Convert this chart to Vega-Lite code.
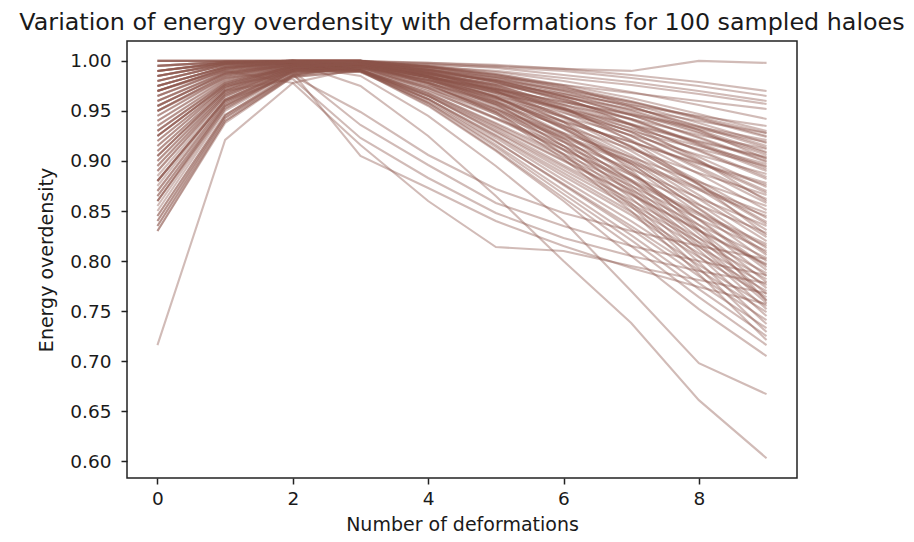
{"$schema":"https://vega.github.io/schema/vega-lite/v6.json","width":670,"height":437,"autosize":"none","padding":{"left":127,"top":41,"right":117,"bottom":64},"background":"white",
"title":{"text":"Variation of energy overdensity with deformations for 100 sampled haloes","font":"DejaVu Sans","fontSize":23.8,"fontWeight":"normal","color":"#1a1a1a","anchor":"middle","offset":6},
"config":{"view":{"stroke":"#222","strokeWidth":1.5},"axis":{"grid":false,"domain":false,"labelFont":"DejaVu Sans","titleFont":"DejaVu Sans","labelFontSize":18.5,"titleFontSize":19,"titleFontWeight":"normal","labelColor":"#1a1a1a","titleColor":"#1a1a1a","tickColor":"#222","tickSize":6,"tickWidth":1.5}},
"datasets":{"halos":[
{"halo":1,"n":0,"e":0.985},{"halo":1,"n":1,"e":0.998},{"halo":1,"n":2,"e":1.0},{"halo":1,"n":3,"e":1.0},{"halo":1,"n":4,"e":0.998},{"halo":1,"n":5,"e":0.995},{"halo":1,"n":6,"e":0.992},{"halo":1,"n":7,"e":0.99},{"halo":1,"n":8,"e":1.0},{"halo":1,"n":9,"e":0.998},
{"halo":2,"n":0,"e":0.97},{"halo":2,"n":1,"e":0.993},{"halo":2,"n":2,"e":0.999},{"halo":2,"n":3,"e":0.999},{"halo":2,"n":4,"e":0.998},{"halo":2,"n":5,"e":0.996},{"halo":2,"n":6,"e":0.992},{"halo":2,"n":7,"e":0.986},{"halo":2,"n":8,"e":0.979},{"halo":2,"n":9,"e":0.97},
{"halo":3,"n":0,"e":0.94},{"halo":3,"n":1,"e":0.981},{"halo":3,"n":2,"e":0.997},{"halo":3,"n":3,"e":0.998},{"halo":3,"n":4,"e":0.996},{"halo":3,"n":5,"e":0.994},{"halo":3,"n":6,"e":0.99},{"halo":3,"n":7,"e":0.983},{"halo":3,"n":8,"e":0.975},{"halo":3,"n":9,"e":0.965},
{"halo":4,"n":0,"e":0.995},{"halo":4,"n":1,"e":0.999},{"halo":4,"n":2,"e":1.0},{"halo":4,"n":3,"e":1.0},{"halo":4,"n":4,"e":0.997},{"halo":4,"n":5,"e":0.993},{"halo":4,"n":6,"e":0.986},{"halo":4,"n":7,"e":0.979},{"halo":4,"n":8,"e":0.97},{"halo":4,"n":9,"e":0.96},
{"halo":5,"n":0,"e":0.89},{"halo":5,"n":1,"e":0.965},{"halo":5,"n":2,"e":0.992},{"halo":5,"n":3,"e":0.997},{"halo":5,"n":4,"e":0.994},{"halo":5,"n":5,"e":0.99},{"halo":5,"n":6,"e":0.983},{"halo":5,"n":7,"e":0.976},{"halo":5,"n":8,"e":0.967},{"halo":5,"n":9,"e":0.957},
{"halo":6,"n":0,"e":0.98},{"halo":6,"n":1,"e":0.996},{"halo":6,"n":2,"e":0.999},{"halo":6,"n":3,"e":0.997},{"halo":6,"n":4,"e":0.991},{"halo":6,"n":5,"e":0.984},{"halo":6,"n":6,"e":0.976},{"halo":6,"n":7,"e":0.968},{"halo":6,"n":8,"e":0.96},{"halo":6,"n":9,"e":0.952},
{"halo":7,"n":0,"e":0.955},{"halo":7,"n":1,"e":0.988},{"halo":7,"n":2,"e":0.998},{"halo":7,"n":3,"e":0.999},{"halo":7,"n":4,"e":0.995},{"halo":7,"n":5,"e":0.989},{"halo":7,"n":6,"e":0.98},{"halo":7,"n":7,"e":0.969},{"halo":7,"n":8,"e":0.956},{"halo":7,"n":9,"e":0.942},
{"halo":8,"n":0,"e":0.86},{"halo":8,"n":1,"e":0.952},{"halo":8,"n":2,"e":0.99},{"halo":8,"n":3,"e":0.995},{"halo":8,"n":4,"e":0.987},{"halo":8,"n":5,"e":0.977},{"halo":8,"n":6,"e":0.967},{"halo":8,"n":7,"e":0.956},{"halo":8,"n":8,"e":0.945},{"halo":8,"n":9,"e":0.935},
{"halo":9,"n":0,"e":0.99},{"halo":9,"n":1,"e":0.999},{"halo":9,"n":2,"e":1.0},{"halo":9,"n":3,"e":1.0},{"halo":9,"n":4,"e":0.995},{"halo":9,"n":5,"e":0.987},{"halo":9,"n":6,"e":0.976},{"halo":9,"n":7,"e":0.963},{"halo":9,"n":8,"e":0.947},{"halo":9,"n":9,"e":0.93},
{"halo":10,"n":0,"e":0.925},{"halo":10,"n":1,"e":0.976},{"halo":10,"n":2,"e":0.995},{"halo":10,"n":3,"e":0.996},{"halo":10,"n":4,"e":0.987},{"halo":10,"n":5,"e":0.976},{"halo":10,"n":6,"e":0.964},{"halo":10,"n":7,"e":0.952},{"halo":10,"n":8,"e":0.94},{"halo":10,"n":9,"e":0.928},
{"halo":11,"n":0,"e":0.97},{"halo":11,"n":1,"e":0.992},{"halo":11,"n":2,"e":0.999},{"halo":11,"n":3,"e":0.999},{"halo":11,"n":4,"e":0.994},{"halo":11,"n":5,"e":0.986},{"halo":11,"n":6,"e":0.974},{"halo":11,"n":7,"e":0.96},{"halo":11,"n":8,"e":0.943},{"halo":11,"n":9,"e":0.925},
{"halo":12,"n":0,"e":0.835},{"halo":12,"n":1,"e":0.94},{"halo":12,"n":2,"e":0.985},{"halo":12,"n":3,"e":0.993},{"halo":12,"n":4,"e":0.984},{"halo":12,"n":5,"e":0.972},{"halo":12,"n":6,"e":0.959},{"halo":12,"n":7,"e":0.947},{"halo":12,"n":8,"e":0.934},{"halo":12,"n":9,"e":0.921},
{"halo":13,"n":0,"e":1.0},{"halo":13,"n":1,"e":1.0},{"halo":13,"n":2,"e":1.0},{"halo":13,"n":3,"e":1.0},{"halo":13,"n":4,"e":0.994},{"halo":13,"n":5,"e":0.985},{"halo":13,"n":6,"e":0.972},{"halo":13,"n":7,"e":0.957},{"halo":13,"n":8,"e":0.938},{"halo":13,"n":9,"e":0.918},
{"halo":14,"n":0,"e":0.945},{"halo":14,"n":1,"e":0.984},{"halo":14,"n":2,"e":0.997},{"halo":14,"n":3,"e":0.998},{"halo":14,"n":4,"e":0.992},{"halo":14,"n":5,"e":0.983},{"halo":14,"n":6,"e":0.97},{"halo":14,"n":7,"e":0.954},{"halo":14,"n":8,"e":0.935},{"halo":14,"n":9,"e":0.915},
{"halo":15,"n":0,"e":0.905},{"halo":15,"n":1,"e":0.97},{"halo":15,"n":2,"e":0.994},{"halo":15,"n":3,"e":0.996},{"halo":15,"n":4,"e":0.984},{"halo":15,"n":5,"e":0.971},{"halo":15,"n":6,"e":0.956},{"halo":15,"n":7,"e":0.942},{"halo":15,"n":8,"e":0.926},{"halo":15,"n":9,"e":0.912},
{"halo":16,"n":0,"e":0.985},{"halo":16,"n":1,"e":0.997},{"halo":16,"n":2,"e":0.999},{"halo":16,"n":3,"e":0.999},{"halo":16,"n":4,"e":0.993},{"halo":16,"n":5,"e":0.983},{"halo":16,"n":6,"e":0.968},{"halo":16,"n":7,"e":0.951},{"halo":16,"n":8,"e":0.931},{"halo":16,"n":9,"e":0.909},
{"halo":17,"n":0,"e":0.87},{"halo":17,"n":1,"e":0.958},{"halo":17,"n":2,"e":0.991},{"halo":17,"n":3,"e":0.996},{"halo":17,"n":4,"e":0.99},{"halo":17,"n":5,"e":0.98},{"halo":17,"n":6,"e":0.965},{"halo":17,"n":7,"e":0.948},{"halo":17,"n":8,"e":0.928},{"halo":17,"n":9,"e":0.906},
{"halo":18,"n":0,"e":0.96},{"halo":18,"n":1,"e":0.989},{"halo":18,"n":2,"e":0.998},{"halo":18,"n":3,"e":0.996},{"halo":18,"n":4,"e":0.984},{"halo":18,"n":5,"e":0.969},{"halo":18,"n":6,"e":0.952},{"halo":18,"n":7,"e":0.936},{"halo":18,"n":8,"e":0.919},{"halo":18,"n":9,"e":0.903},
{"halo":19,"n":0,"e":0.93},{"halo":19,"n":1,"e":0.978},{"halo":19,"n":2,"e":0.996},{"halo":19,"n":3,"e":0.998},{"halo":19,"n":4,"e":0.991},{"halo":19,"n":5,"e":0.98},{"halo":19,"n":6,"e":0.965},{"halo":19,"n":7,"e":0.946},{"halo":19,"n":8,"e":0.924},{"halo":19,"n":9,"e":0.9},
{"halo":20,"n":0,"e":0.995},{"halo":20,"n":1,"e":0.999},{"halo":20,"n":2,"e":1.0},{"halo":20,"n":3,"e":0.997},{"halo":20,"n":4,"e":0.985},{"halo":20,"n":5,"e":0.968},{"halo":20,"n":6,"e":0.951},{"halo":20,"n":7,"e":0.933},{"halo":20,"n":8,"e":0.915},{"halo":20,"n":9,"e":0.897},
{"halo":21,"n":0,"e":0.85},{"halo":21,"n":1,"e":0.95},{"halo":21,"n":2,"e":0.988},{"halo":21,"n":3,"e":0.995},{"halo":21,"n":4,"e":0.989},{"halo":21,"n":5,"e":0.978},{"halo":21,"n":6,"e":0.961},{"halo":21,"n":7,"e":0.942},{"halo":21,"n":8,"e":0.918},{"halo":21,"n":9,"e":0.894},
{"halo":22,"n":0,"e":0.975},{"halo":22,"n":1,"e":0.994},{"halo":22,"n":2,"e":0.999},{"halo":22,"n":3,"e":0.999},{"halo":22,"n":4,"e":0.991},{"halo":22,"n":5,"e":0.979},{"halo":22,"n":6,"e":0.962},{"halo":22,"n":7,"e":0.941},{"halo":22,"n":8,"e":0.916},{"halo":22,"n":9,"e":0.89},
{"halo":23,"n":0,"e":0.915},{"halo":23,"n":1,"e":0.973},{"halo":23,"n":2,"e":0.995},{"halo":23,"n":3,"e":0.994},{"halo":23,"n":4,"e":0.981},{"halo":23,"n":5,"e":0.963},{"halo":23,"n":6,"e":0.944},{"halo":23,"n":7,"e":0.926},{"halo":23,"n":8,"e":0.906},{"halo":23,"n":9,"e":0.887},
{"halo":24,"n":0,"e":0.99},{"halo":24,"n":1,"e":0.998},{"halo":24,"n":2,"e":1.0},{"halo":24,"n":3,"e":1.0},{"halo":24,"n":4,"e":0.992},{"halo":24,"n":5,"e":0.979},{"halo":24,"n":6,"e":0.96},{"halo":24,"n":7,"e":0.937},{"halo":24,"n":8,"e":0.91},{"halo":24,"n":9,"e":0.882},
{"halo":25,"n":0,"e":0.88},{"halo":25,"n":1,"e":0.961},{"halo":25,"n":2,"e":0.992},{"halo":25,"n":3,"e":0.993},{"halo":25,"n":4,"e":0.978},{"halo":25,"n":5,"e":0.959},{"halo":25,"n":6,"e":0.939},{"halo":25,"n":7,"e":0.919},{"halo":25,"n":8,"e":0.898},{"halo":25,"n":9,"e":0.878},
{"halo":26,"n":0,"e":0.95},{"halo":26,"n":1,"e":0.986},{"halo":26,"n":2,"e":0.997},{"halo":26,"n":3,"e":0.998},{"halo":26,"n":4,"e":0.989},{"halo":26,"n":5,"e":0.976},{"halo":26,"n":6,"e":0.956},{"halo":26,"n":7,"e":0.932},{"halo":26,"n":8,"e":0.904},{"halo":26,"n":9,"e":0.874},
{"halo":27,"n":0,"e":0.84},{"halo":27,"n":1,"e":0.943},{"halo":27,"n":2,"e":0.986},{"halo":27,"n":3,"e":0.995},{"halo":27,"n":4,"e":0.986},{"halo":27,"n":5,"e":0.972},{"halo":27,"n":6,"e":0.952},{"halo":27,"n":7,"e":0.929},{"halo":27,"n":8,"e":0.9},{"halo":27,"n":9,"e":0.87},
{"halo":28,"n":0,"e":0.965},{"halo":28,"n":1,"e":0.99},{"halo":28,"n":2,"e":0.998},{"halo":28,"n":3,"e":0.994},{"halo":28,"n":4,"e":0.978},{"halo":28,"n":5,"e":0.957},{"halo":28,"n":6,"e":0.935},{"halo":28,"n":7,"e":0.912},{"halo":28,"n":8,"e":0.888},{"halo":28,"n":9,"e":0.866},
{"halo":29,"n":0,"e":0.92},{"halo":29,"n":1,"e":0.974},{"halo":29,"n":2,"e":0.995},{"halo":29,"n":3,"e":0.997},{"halo":29,"n":4,"e":0.988},{"halo":29,"n":5,"e":0.973},{"halo":29,"n":6,"e":0.951},{"halo":29,"n":7,"e":0.925},{"halo":29,"n":8,"e":0.894},{"halo":29,"n":9,"e":0.862},
{"halo":30,"n":0,"e":1.0},{"halo":30,"n":1,"e":1.0},{"halo":30,"n":2,"e":1.0},{"halo":30,"n":3,"e":1.0},{"halo":30,"n":4,"e":0.99},{"halo":30,"n":5,"e":0.974},{"halo":30,"n":6,"e":0.952},{"halo":30,"n":7,"e":0.925},{"halo":30,"n":8,"e":0.892},{"halo":30,"n":9,"e":0.858},
{"halo":31,"n":0,"e":0.895},{"halo":31,"n":1,"e":0.967},{"halo":31,"n":2,"e":0.993},{"halo":31,"n":3,"e":0.992},{"halo":31,"n":4,"e":0.975},{"halo":31,"n":5,"e":0.952},{"halo":31,"n":6,"e":0.928},{"halo":31,"n":7,"e":0.904},{"halo":31,"n":8,"e":0.879},{"halo":31,"n":9,"e":0.855},
{"halo":32,"n":0,"e":0.98},{"halo":32,"n":1,"e":0.996},{"halo":32,"n":2,"e":0.999},{"halo":32,"n":3,"e":0.999},{"halo":32,"n":4,"e":0.989},{"halo":32,"n":5,"e":0.972},{"halo":32,"n":6,"e":0.949},{"halo":32,"n":7,"e":0.921},{"halo":32,"n":8,"e":0.887},{"halo":32,"n":9,"e":0.851},
{"halo":33,"n":0,"e":0.935},{"halo":33,"n":1,"e":0.979},{"halo":33,"n":2,"e":0.996},{"halo":33,"n":3,"e":0.993},{"halo":33,"n":4,"e":0.975},{"halo":33,"n":5,"e":0.951},{"halo":33,"n":6,"e":0.925},{"halo":33,"n":7,"e":0.9},{"halo":33,"n":8,"e":0.873},{"halo":33,"n":9,"e":0.848},
{"halo":34,"n":0,"e":0.865},{"halo":34,"n":1,"e":0.955},{"halo":34,"n":2,"e":0.99},{"halo":34,"n":3,"e":0.996},{"halo":34,"n":4,"e":0.985},{"halo":34,"n":5,"e":0.968},{"halo":34,"n":6,"e":0.944},{"halo":34,"n":7,"e":0.915},{"halo":34,"n":8,"e":0.88},{"halo":34,"n":9,"e":0.843},
{"halo":35,"n":0,"e":0.97},{"halo":35,"n":1,"e":0.993},{"halo":35,"n":2,"e":0.999},{"halo":35,"n":3,"e":0.999},{"halo":35,"n":4,"e":0.988},{"halo":35,"n":5,"e":0.97},{"halo":35,"n":6,"e":0.945},{"halo":35,"n":7,"e":0.914},{"halo":35,"n":8,"e":0.877},{"halo":35,"n":9,"e":0.839},
{"halo":36,"n":0,"e":0.91},{"halo":36,"n":1,"e":0.971},{"halo":36,"n":2,"e":0.994},{"halo":36,"n":3,"e":0.992},{"halo":36,"n":4,"e":0.973},{"halo":36,"n":5,"e":0.947},{"halo":36,"n":6,"e":0.919},{"halo":36,"n":7,"e":0.892},{"halo":36,"n":8,"e":0.863},{"halo":36,"n":9,"e":0.835},
{"halo":37,"n":0,"e":0.985},{"halo":37,"n":1,"e":0.997},{"halo":37,"n":2,"e":1.0},{"halo":37,"n":3,"e":1.0},{"halo":37,"n":4,"e":0.988},{"halo":37,"n":5,"e":0.97},{"halo":37,"n":6,"e":0.943},{"halo":37,"n":7,"e":0.91},{"halo":37,"n":8,"e":0.872},{"halo":37,"n":9,"e":0.831},
{"halo":38,"n":0,"e":0.83},{"halo":38,"n":1,"e":0.938},{"halo":38,"n":2,"e":0.984},{"halo":38,"n":3,"e":0.99},{"halo":38,"n":4,"e":0.97},{"halo":38,"n":5,"e":0.943},{"halo":38,"n":6,"e":0.915},{"halo":38,"n":7,"e":0.886},{"halo":38,"n":8,"e":0.856},{"halo":38,"n":9,"e":0.828},
{"halo":39,"n":0,"e":0.955},{"halo":39,"n":1,"e":0.987},{"halo":39,"n":2,"e":0.997},{"halo":39,"n":3,"e":0.998},{"halo":39,"n":4,"e":0.986},{"halo":39,"n":5,"e":0.967},{"halo":39,"n":6,"e":0.939},{"halo":39,"n":7,"e":0.906},{"halo":39,"n":8,"e":0.866},{"halo":39,"n":9,"e":0.824},
{"halo":40,"n":0,"e":0.875},{"halo":40,"n":1,"e":0.96},{"halo":40,"n":2,"e":0.991},{"halo":40,"n":3,"e":0.996},{"halo":40,"n":4,"e":0.984},{"halo":40,"n":5,"e":0.964},{"halo":40,"n":6,"e":0.936},{"halo":40,"n":7,"e":0.903},{"halo":40,"n":8,"e":0.862},{"halo":40,"n":9,"e":0.82},
{"halo":41,"n":0,"e":0.99},{"halo":41,"n":1,"e":0.998},{"halo":41,"n":2,"e":1.0},{"halo":41,"n":3,"e":0.995},{"halo":41,"n":4,"e":0.973},{"halo":41,"n":5,"e":0.943},{"halo":41,"n":6,"e":0.912},{"halo":41,"n":7,"e":0.881},{"halo":41,"n":8,"e":0.848},{"halo":41,"n":9,"e":0.817},
{"halo":42,"n":0,"e":0.94},{"halo":42,"n":1,"e":0.982},{"halo":42,"n":2,"e":0.997},{"halo":42,"n":3,"e":0.998},{"halo":42,"n":4,"e":0.985},{"halo":42,"n":5,"e":0.965},{"halo":42,"n":6,"e":0.935},{"halo":42,"n":7,"e":0.9},{"halo":42,"n":8,"e":0.857},{"halo":42,"n":9,"e":0.813},
{"halo":43,"n":0,"e":0.855},{"halo":43,"n":1,"e":0.952},{"halo":43,"n":2,"e":0.989},{"halo":43,"n":3,"e":0.991},{"halo":43,"n":4,"e":0.968},{"halo":43,"n":5,"e":0.938},{"halo":43,"n":6,"e":0.907},{"halo":43,"n":7,"e":0.875},{"halo":43,"n":8,"e":0.842},{"halo":43,"n":9,"e":0.81},
{"halo":44,"n":0,"e":0.975},{"halo":44,"n":1,"e":0.994},{"halo":44,"n":2,"e":0.999},{"halo":44,"n":3,"e":0.999},{"halo":44,"n":4,"e":0.985},{"halo":44,"n":5,"e":0.964},{"halo":44,"n":6,"e":0.933},{"halo":44,"n":7,"e":0.897},{"halo":44,"n":8,"e":0.852},{"halo":44,"n":9,"e":0.806},
{"halo":45,"n":0,"e":0.9},{"halo":45,"n":1,"e":0.968},{"halo":45,"n":2,"e":0.993},{"halo":45,"n":3,"e":0.991},{"halo":45,"n":4,"e":0.968},{"halo":45,"n":5,"e":0.937},{"halo":45,"n":6,"e":0.904},{"halo":45,"n":7,"e":0.871},{"halo":45,"n":8,"e":0.836},{"halo":45,"n":9,"e":0.803},
{"halo":46,"n":0,"e":0.995},{"halo":46,"n":1,"e":0.999},{"halo":46,"n":2,"e":1.0},{"halo":46,"n":3,"e":1.0},{"halo":46,"n":4,"e":0.986},{"halo":46,"n":5,"e":0.964},{"halo":46,"n":6,"e":0.932},{"halo":46,"n":7,"e":0.894},{"halo":46,"n":8,"e":0.848},{"halo":46,"n":9,"e":0.8},
{"halo":47,"n":0,"e":0.925},{"halo":47,"n":1,"e":0.976},{"halo":47,"n":2,"e":0.995},{"halo":47,"n":3,"e":0.991},{"halo":47,"n":4,"e":0.967},{"halo":47,"n":5,"e":0.935},{"halo":47,"n":6,"e":0.901},{"halo":47,"n":7,"e":0.867},{"halo":47,"n":8,"e":0.831},{"halo":47,"n":9,"e":0.797},
{"halo":48,"n":0,"e":0.845},{"halo":48,"n":1,"e":0.946},{"halo":48,"n":2,"e":0.987},{"halo":48,"n":3,"e":0.995},{"halo":48,"n":4,"e":0.981},{"halo":48,"n":5,"e":0.959},{"halo":48,"n":6,"e":0.927},{"halo":48,"n":7,"e":0.888},{"halo":48,"n":8,"e":0.842},{"halo":48,"n":9,"e":0.794},
{"halo":49,"n":0,"e":0.96},{"halo":49,"n":1,"e":0.989},{"halo":49,"n":2,"e":0.998},{"halo":49,"n":3,"e":0.998},{"halo":49,"n":4,"e":0.984},{"halo":49,"n":5,"e":0.961},{"halo":49,"n":6,"e":0.928},{"halo":49,"n":7,"e":0.888},{"halo":49,"n":8,"e":0.841},{"halo":49,"n":9,"e":0.791},
{"halo":50,"n":0,"e":0.885},{"halo":50,"n":1,"e":0.963},{"halo":50,"n":2,"e":0.992},{"halo":50,"n":3,"e":0.99},{"halo":50,"n":4,"e":0.965},{"halo":50,"n":5,"e":0.932},{"halo":50,"n":6,"e":0.896},{"halo":50,"n":7,"e":0.861},{"halo":50,"n":8,"e":0.823},{"halo":50,"n":9,"e":0.788},
{"halo":51,"n":0,"e":0.98},{"halo":51,"n":1,"e":0.996},{"halo":51,"n":2,"e":0.999},{"halo":51,"n":3,"e":0.999},{"halo":51,"n":4,"e":0.984},{"halo":51,"n":5,"e":0.96},{"halo":51,"n":6,"e":0.926},{"halo":51,"n":7,"e":0.886},{"halo":51,"n":8,"e":0.836},{"halo":51,"n":9,"e":0.785},
{"halo":52,"n":0,"e":0.915},{"halo":52,"n":1,"e":0.973},{"halo":52,"n":2,"e":0.994},{"halo":52,"n":3,"e":0.99},{"halo":52,"n":4,"e":0.965},{"halo":52,"n":5,"e":0.93},{"halo":52,"n":6,"e":0.894},{"halo":52,"n":7,"e":0.857},{"halo":52,"n":8,"e":0.819},{"halo":52,"n":9,"e":0.782},
{"halo":53,"n":0,"e":0.835},{"halo":53,"n":1,"e":0.943},{"halo":53,"n":2,"e":0.985},{"halo":53,"n":3,"e":0.995},{"halo":53,"n":4,"e":0.98},{"halo":53,"n":5,"e":0.956},{"halo":53,"n":6,"e":0.922},{"halo":53,"n":7,"e":0.881},{"halo":53,"n":8,"e":0.831},{"halo":53,"n":9,"e":0.779},
{"halo":54,"n":0,"e":0.95},{"halo":54,"n":1,"e":0.985},{"halo":54,"n":2,"e":0.997},{"halo":54,"n":3,"e":0.991},{"halo":54,"n":4,"e":0.965},{"halo":54,"n":5,"e":0.929},{"halo":54,"n":6,"e":0.891},{"halo":54,"n":7,"e":0.854},{"halo":54,"n":8,"e":0.814},{"halo":54,"n":9,"e":0.776},
{"halo":55,"n":0,"e":0.99},{"halo":55,"n":1,"e":0.998},{"halo":55,"n":2,"e":1.0},{"halo":55,"n":3,"e":1.0},{"halo":55,"n":4,"e":0.984},{"halo":55,"n":5,"e":0.959},{"halo":55,"n":6,"e":0.923},{"halo":55,"n":7,"e":0.88},{"halo":55,"n":8,"e":0.827},{"halo":55,"n":9,"e":0.773},
{"halo":56,"n":0,"e":0.87},{"halo":56,"n":1,"e":0.958},{"halo":56,"n":2,"e":0.99},{"halo":56,"n":3,"e":0.989},{"halo":56,"n":4,"e":0.962},{"halo":56,"n":5,"e":0.926},{"halo":56,"n":6,"e":0.888},{"halo":56,"n":7,"e":0.849},{"halo":56,"n":8,"e":0.808},{"halo":56,"n":9,"e":0.77},
{"halo":57,"n":0,"e":0.965},{"halo":57,"n":1,"e":0.991},{"halo":57,"n":2,"e":0.999},{"halo":57,"n":3,"e":0.999},{"halo":57,"n":4,"e":0.983},{"halo":57,"n":5,"e":0.957},{"halo":57,"n":6,"e":0.92},{"halo":57,"n":7,"e":0.876},{"halo":57,"n":8,"e":0.823},{"halo":57,"n":9,"e":0.767},
{"halo":58,"n":0,"e":0.905},{"halo":58,"n":1,"e":0.97},{"halo":58,"n":2,"e":0.993},{"halo":58,"n":3,"e":0.99},{"halo":58,"n":4,"e":0.962},{"halo":58,"n":5,"e":0.925},{"halo":58,"n":6,"e":0.885},{"halo":58,"n":7,"e":0.846},{"halo":58,"n":8,"e":0.804},{"halo":58,"n":9,"e":0.764},
{"halo":59,"n":0,"e":1.0},{"halo":59,"n":1,"e":1.0},{"halo":59,"n":2,"e":1.0},{"halo":59,"n":3,"e":1.0},{"halo":59,"n":4,"e":0.983},{"halo":59,"n":5,"e":0.957},{"halo":59,"n":6,"e":0.919},{"halo":59,"n":7,"e":0.873},{"halo":59,"n":8,"e":0.818},{"halo":59,"n":9,"e":0.761},
{"halo":60,"n":0,"e":0.86},{"halo":60,"n":1,"e":0.955},{"halo":60,"n":2,"e":0.989},{"halo":60,"n":3,"e":0.996},{"halo":60,"n":4,"e":0.979},{"halo":60,"n":5,"e":0.953},{"halo":60,"n":6,"e":0.915},{"halo":60,"n":7,"e":0.87},{"halo":60,"n":8,"e":0.815},{"halo":60,"n":9,"e":0.758},
{"halo":61,"n":0,"e":0.945},{"halo":61,"n":1,"e":0.983},{"halo":61,"n":2,"e":0.997},{"halo":61,"n":3,"e":0.991},{"halo":61,"n":4,"e":0.962},{"halo":61,"n":5,"e":0.923},{"halo":61,"n":6,"e":0.881},{"halo":61,"n":7,"e":0.84},{"halo":61,"n":8,"e":0.796},{"halo":61,"n":9,"e":0.755},
{"halo":62,"n":0,"e":0.975},{"halo":62,"n":1,"e":0.994},{"halo":62,"n":2,"e":0.999},{"halo":62,"n":3,"e":0.999},{"halo":62,"n":4,"e":0.982},{"halo":62,"n":5,"e":0.955},{"halo":62,"n":6,"e":0.915},{"halo":62,"n":7,"e":0.868},{"halo":62,"n":8,"e":0.811},{"halo":62,"n":9,"e":0.752},
{"halo":63,"n":0,"e":0.89},{"halo":63,"n":1,"e":0.965},{"halo":63,"n":2,"e":0.992},{"halo":63,"n":3,"e":0.989},{"halo":63,"n":4,"e":0.959},{"halo":63,"n":5,"e":0.919},{"halo":63,"n":6,"e":0.877},{"halo":63,"n":7,"e":0.835},{"halo":63,"n":8,"e":0.791},{"halo":63,"n":9,"e":0.749},
{"halo":64,"n":0,"e":0.93},{"halo":64,"n":1,"e":0.977},{"halo":64,"n":2,"e":0.995},{"halo":64,"n":3,"e":0.997},{"halo":64,"n":4,"e":0.979},{"halo":64,"n":5,"e":0.952},{"halo":64,"n":6,"e":0.911},{"halo":64,"n":7,"e":0.863},{"halo":64,"n":8,"e":0.805},{"halo":64,"n":9,"e":0.745},
{"halo":65,"n":0,"e":0.985},{"halo":65,"n":1,"e":0.997},{"halo":65,"n":2,"e":1.0},{"halo":65,"n":3,"e":0.992},{"halo":65,"n":4,"e":0.961},{"halo":65,"n":5,"e":0.92},{"halo":65,"n":6,"e":0.876},{"halo":65,"n":7,"e":0.832},{"halo":65,"n":8,"e":0.785},{"halo":65,"n":9,"e":0.741},
{"halo":66,"n":0,"e":0.84},{"halo":66,"n":1,"e":0.945},{"halo":66,"n":2,"e":0.986},{"halo":66,"n":3,"e":0.995},{"halo":66,"n":4,"e":0.977},{"halo":66,"n":5,"e":0.949},{"halo":66,"n":6,"e":0.907},{"halo":66,"n":7,"e":0.858},{"halo":66,"n":8,"e":0.799},{"halo":66,"n":9,"e":0.737},
{"halo":67,"n":0,"e":0.96},{"halo":67,"n":1,"e":0.988},{"halo":67,"n":2,"e":0.998},{"halo":67,"n":3,"e":0.99},{"halo":67,"n":4,"e":0.958},{"halo":67,"n":5,"e":0.916},{"halo":67,"n":6,"e":0.871},{"halo":67,"n":7,"e":0.826},{"halo":67,"n":8,"e":0.778},{"halo":67,"n":9,"e":0.733},
{"halo":68,"n":0,"e":0.92},{"halo":68,"n":1,"e":0.974},{"halo":68,"n":2,"e":0.995},{"halo":68,"n":3,"e":0.997},{"halo":68,"n":4,"e":0.978},{"halo":68,"n":5,"e":0.949},{"halo":68,"n":6,"e":0.906},{"halo":68,"n":7,"e":0.855},{"halo":68,"n":8,"e":0.793},{"halo":68,"n":9,"e":0.729},
{"halo":69,"n":0,"e":0.97},{"halo":69,"n":1,"e":0.992},{"halo":69,"n":2,"e":0.999},{"halo":69,"n":3,"e":0.991},{"halo":69,"n":4,"e":0.958},{"halo":69,"n":5,"e":0.914},{"halo":69,"n":6,"e":0.867},{"halo":69,"n":7,"e":0.821},{"halo":69,"n":8,"e":0.772},{"halo":69,"n":9,"e":0.725},
{"halo":70,"n":0,"e":0.88},{"halo":70,"n":1,"e":0.961},{"halo":70,"n":2,"e":0.991},{"halo":70,"n":3,"e":0.996},{"halo":70,"n":4,"e":0.977},{"halo":70,"n":5,"e":0.947},{"halo":70,"n":6,"e":0.902},{"halo":70,"n":7,"e":0.85},{"halo":70,"n":8,"e":0.787},{"halo":70,"n":9,"e":0.721},
{"halo":71,"n":0,"e":0.955},{"halo":71,"n":1,"e":0.987},{"halo":71,"n":2,"e":0.997},{"halo":71,"n":3,"e":0.99},{"halo":71,"n":4,"e":0.956},{"halo":71,"n":5,"e":0.911},{"halo":71,"n":6,"e":0.863},{"halo":71,"n":7,"e":0.815},{"halo":71,"n":8,"e":0.764},{"halo":71,"n":9,"e":0.716},
{"halo":72,"n":0,"e":0.99},{"halo":72,"n":1,"e":0.998},{"halo":72,"n":2,"e":0.999},{"halo":72,"n":3,"e":0.99},{"halo":72,"n":4,"e":0.955},{"halo":72,"n":5,"e":0.91},{"halo":72,"n":6,"e":0.86},{"halo":72,"n":7,"e":0.805},{"halo":72,"n":8,"e":0.752},{"halo":72,"n":9,"e":0.705},
{"halo":73,"n":0,"e":0.93},{"halo":73,"n":1,"e":0.978},{"halo":73,"n":2,"e":0.996},{"halo":73,"n":3,"e":0.985},{"halo":73,"n":4,"e":0.945},{"halo":73,"n":5,"e":0.895},{"halo":73,"n":6,"e":0.84},{"halo":73,"n":7,"e":0.77},{"halo":73,"n":8,"e":0.698},{"halo":73,"n":9,"e":0.667},
{"halo":74,"n":0,"e":0.975},{"halo":74,"n":1,"e":0.994},{"halo":74,"n":2,"e":0.998},{"halo":74,"n":3,"e":0.975},{"halo":74,"n":4,"e":0.925},{"halo":74,"n":5,"e":0.865},{"halo":74,"n":6,"e":0.8},{"halo":74,"n":7,"e":0.738},{"halo":74,"n":8,"e":0.661},{"halo":74,"n":9,"e":0.603},
{"halo":75,"n":0,"e":0.716},{"halo":75,"n":1,"e":0.921},{"halo":75,"n":2,"e":0.978},{"halo":75,"n":3,"e":0.993},{"halo":75,"n":4,"e":0.988},{"halo":75,"n":5,"e":0.981},{"halo":75,"n":6,"e":0.971},{"halo":75,"n":7,"e":0.959},{"halo":75,"n":8,"e":0.944},{"halo":75,"n":9,"e":0.928},
{"halo":76,"n":0,"e":0.965},{"halo":76,"n":1,"e":0.991},{"halo":76,"n":2,"e":0.999},{"halo":76,"n":3,"e":0.999},{"halo":76,"n":4,"e":0.994},{"halo":76,"n":5,"e":0.986},{"halo":76,"n":6,"e":0.973},{"halo":76,"n":7,"e":0.959},{"halo":76,"n":8,"e":0.942},{"halo":76,"n":9,"e":0.924},
{"halo":77,"n":0,"e":0.88},{"halo":77,"n":1,"e":0.961},{"halo":77,"n":2,"e":0.991},{"halo":77,"n":3,"e":0.994},{"halo":77,"n":4,"e":0.984},{"halo":77,"n":5,"e":0.972},{"halo":77,"n":6,"e":0.959},{"halo":77,"n":7,"e":0.946},{"halo":77,"n":8,"e":0.932},{"halo":77,"n":9,"e":0.919},
{"halo":78,"n":0,"e":0.995},{"halo":78,"n":1,"e":0.999},{"halo":78,"n":2,"e":1.0},{"halo":78,"n":3,"e":1.0},{"halo":78,"n":4,"e":0.994},{"halo":78,"n":5,"e":0.984},{"halo":78,"n":6,"e":0.97},{"halo":78,"n":7,"e":0.954},{"halo":78,"n":8,"e":0.934},{"halo":78,"n":9,"e":0.913},
{"halo":79,"n":0,"e":0.9},{"halo":79,"n":1,"e":0.968},{"halo":79,"n":2,"e":0.993},{"halo":79,"n":3,"e":0.997},{"halo":79,"n":4,"e":0.991},{"halo":79,"n":5,"e":0.981},{"halo":79,"n":6,"e":0.967},{"halo":79,"n":7,"e":0.95},{"halo":79,"n":8,"e":0.929},{"halo":79,"n":9,"e":0.908},
{"halo":80,"n":0,"e":0.95},{"halo":80,"n":1,"e":0.985},{"halo":80,"n":2,"e":0.997},{"halo":80,"n":3,"e":0.995},{"halo":80,"n":4,"e":0.984},{"halo":80,"n":5,"e":0.969},{"halo":80,"n":6,"e":0.953},{"halo":80,"n":7,"e":0.937},{"halo":80,"n":8,"e":0.92},{"halo":80,"n":9,"e":0.904},
{"halo":81,"n":0,"e":0.985},{"halo":81,"n":1,"e":0.997},{"halo":81,"n":2,"e":0.999},{"halo":81,"n":3,"e":0.999},{"halo":81,"n":4,"e":0.992},{"halo":81,"n":5,"e":0.981},{"halo":81,"n":6,"e":0.965},{"halo":81,"n":7,"e":0.946},{"halo":81,"n":8,"e":0.923},{"halo":81,"n":9,"e":0.899},
{"halo":82,"n":0,"e":0.86},{"halo":82,"n":1,"e":0.954},{"halo":82,"n":2,"e":0.989},{"halo":82,"n":3,"e":0.993},{"halo":82,"n":4,"e":0.981},{"halo":82,"n":5,"e":0.965},{"halo":82,"n":6,"e":0.948},{"halo":82,"n":7,"e":0.93},{"halo":82,"n":8,"e":0.912},{"halo":82,"n":9,"e":0.895},
{"halo":83,"n":0,"e":0.935},{"halo":83,"n":1,"e":0.98},{"halo":83,"n":2,"e":0.996},{"halo":83,"n":3,"e":0.998},{"halo":83,"n":4,"e":0.991},{"halo":83,"n":5,"e":0.979},{"halo":83,"n":6,"e":0.962},{"halo":83,"n":7,"e":0.942},{"halo":83,"n":8,"e":0.917},{"halo":83,"n":9,"e":0.892},
{"halo":84,"n":0,"e":0.975},{"halo":84,"n":1,"e":0.994},{"halo":84,"n":2,"e":0.999},{"halo":84,"n":3,"e":0.999},{"halo":84,"n":4,"e":0.994},{"halo":84,"n":5,"e":0.987},{"halo":84,"n":6,"e":0.975},{"halo":84,"n":7,"e":0.955},{"halo":84,"n":8,"e":0.931},{"halo":84,"n":9,"e":0.902},
{"halo":85,"n":0,"e":0.845},{"halo":85,"n":1,"e":0.946},{"halo":85,"n":2,"e":0.987},{"halo":85,"n":3,"e":0.995},{"halo":85,"n":4,"e":0.987},{"halo":85,"n":5,"e":0.975},{"halo":85,"n":6,"e":0.957},{"halo":85,"n":7,"e":0.936},{"halo":85,"n":8,"e":0.911},{"halo":85,"n":9,"e":0.884},
{"halo":86,"n":0,"e":0.99},{"halo":86,"n":1,"e":0.998},{"halo":86,"n":2,"e":1.0},{"halo":86,"n":3,"e":0.996},{"halo":86,"n":4,"e":0.981},{"halo":86,"n":5,"e":0.962},{"halo":86,"n":6,"e":0.94},{"halo":86,"n":7,"e":0.919},{"halo":86,"n":8,"e":0.897},{"halo":86,"n":9,"e":0.876},
{"halo":87,"n":0,"e":0.91},{"halo":87,"n":1,"e":0.971},{"halo":87,"n":2,"e":0.994},{"halo":87,"n":3,"e":0.997},{"halo":87,"n":4,"e":0.988},{"halo":87,"n":5,"e":0.974},{"halo":87,"n":6,"e":0.953},{"halo":87,"n":7,"e":0.929},{"halo":87,"n":8,"e":0.899},{"halo":87,"n":9,"e":0.868},
{"halo":88,"n":0,"e":0.955},{"halo":88,"n":1,"e":0.987},{"halo":88,"n":2,"e":0.997},{"halo":88,"n":3,"e":0.998},{"halo":88,"n":4,"e":0.991},{"halo":88,"n":5,"e":0.981},{"halo":88,"n":6,"e":0.964},{"halo":88,"n":7,"e":0.936},{"halo":88,"n":8,"e":0.901},{"halo":88,"n":9,"e":0.86},
{"halo":89,"n":0,"e":0.83},{"halo":89,"n":1,"e":0.94},{"halo":89,"n":2,"e":0.984},{"halo":89,"n":3,"e":0.99},{"halo":89,"n":4,"e":0.973},{"halo":89,"n":5,"e":0.949},{"halo":89,"n":6,"e":0.923},{"halo":89,"n":7,"e":0.898},{"halo":89,"n":8,"e":0.871},{"halo":89,"n":9,"e":0.845},
{"halo":90,"n":0,"e":1.0},{"halo":90,"n":1,"e":1.0},{"halo":90,"n":2,"e":1.0},{"halo":90,"n":3,"e":1.0},{"halo":90,"n":4,"e":0.989},{"halo":90,"n":5,"e":0.971},{"halo":90,"n":6,"e":0.945},{"halo":90,"n":7,"e":0.914},{"halo":90,"n":8,"e":0.876},{"halo":90,"n":9,"e":0.837},
{"halo":91,"n":0,"e":0.895},{"halo":91,"n":1,"e":0.966},{"halo":91,"n":2,"e":0.993},{"halo":91,"n":3,"e":0.997},{"halo":91,"n":4,"e":0.988},{"halo":91,"n":5,"e":0.976},{"halo":91,"n":6,"e":0.954},{"halo":91,"n":7,"e":0.92},{"halo":91,"n":8,"e":0.877},{"halo":91,"n":9,"e":0.826},
{"halo":92,"n":0,"e":0.97},{"halo":92,"n":1,"e":0.992},{"halo":92,"n":2,"e":0.999},{"halo":92,"n":3,"e":0.994},{"halo":92,"n":4,"e":0.971},{"halo":92,"n":5,"e":0.942},{"halo":92,"n":6,"e":0.911},{"halo":92,"n":7,"e":0.879},{"halo":92,"n":8,"e":0.846},{"halo":92,"n":9,"e":0.815},
{"halo":93,"n":0,"e":0.925},{"halo":93,"n":1,"e":0.976},{"halo":93,"n":2,"e":0.995},{"halo":93,"n":3,"e":0.997},{"halo":93,"n":4,"e":0.984},{"halo":93,"n":5,"e":0.963},{"halo":93,"n":6,"e":0.933},{"halo":93,"n":7,"e":0.897},{"halo":93,"n":8,"e":0.853},{"halo":93,"n":9,"e":0.808},
{"halo":94,"n":0,"e":0.865},{"halo":94,"n":1,"e":0.956},{"halo":94,"n":2,"e":0.99},{"halo":94,"n":3,"e":0.99},{"halo":94,"n":4,"e":0.966},{"halo":94,"n":5,"e":0.934},{"halo":94,"n":6,"e":0.9},{"halo":94,"n":7,"e":0.866},{"halo":94,"n":8,"e":0.83},{"halo":94,"n":9,"e":0.796},
{"halo":95,"n":0,"e":0.98},{"halo":95,"n":1,"e":0.996},{"halo":95,"n":2,"e":0.999},{"halo":95,"n":3,"e":0.999},{"halo":95,"n":4,"e":0.987},{"halo":95,"n":5,"e":0.97},{"halo":95,"n":6,"e":0.939},{"halo":95,"n":7,"e":0.891},{"halo":95,"n":8,"e":0.832},{"halo":95,"n":9,"e":0.76},
{"halo":96,"n":0,"e":0.88},{"halo":96,"n":1,"e":0.96},{"halo":96,"n":2,"e":0.985},{"halo":96,"n":3,"e":0.949},{"halo":96,"n":4,"e":0.906},{"halo":96,"n":5,"e":0.872},{"halo":96,"n":6,"e":0.848},{"halo":96,"n":7,"e":0.83},{"halo":96,"n":8,"e":0.815},{"halo":96,"n":9,"e":0.802},
{"halo":97,"n":0,"e":0.95},{"halo":97,"n":1,"e":0.983},{"halo":97,"n":2,"e":0.99},{"halo":97,"n":3,"e":0.936},{"halo":97,"n":4,"e":0.896},{"halo":97,"n":5,"e":0.858},{"halo":97,"n":6,"e":0.835},{"halo":97,"n":7,"e":0.815},{"halo":97,"n":8,"e":0.8},{"halo":97,"n":9,"e":0.786},
{"halo":98,"n":0,"e":0.905},{"halo":98,"n":1,"e":0.97},{"halo":98,"n":2,"e":0.982},{"halo":98,"n":3,"e":0.923},{"halo":98,"n":4,"e":0.883},{"halo":98,"n":5,"e":0.848},{"halo":98,"n":6,"e":0.823},{"halo":98,"n":7,"e":0.805},{"halo":98,"n":8,"e":0.79},{"halo":98,"n":9,"e":0.778},
{"halo":99,"n":0,"e":0.97},{"halo":99,"n":1,"e":0.99},{"halo":99,"n":2,"e":0.978},{"halo":99,"n":3,"e":0.916},{"halo":99,"n":4,"e":0.86},{"halo":99,"n":5,"e":0.814},{"halo":99,"n":6,"e":0.81},{"halo":99,"n":7,"e":0.795},{"halo":99,"n":8,"e":0.781},{"halo":99,"n":9,"e":0.768},
{"halo":100,"n":0,"e":0.925},{"halo":100,"n":1,"e":0.975},{"halo":100,"n":2,"e":0.988},{"halo":100,"n":3,"e":0.905},{"halo":100,"n":4,"e":0.873},{"halo":100,"n":5,"e":0.84},{"halo":100,"n":6,"e":0.815},{"halo":100,"n":7,"e":0.793},{"halo":100,"n":8,"e":0.774},{"halo":100,"n":9,"e":0.757}
]},
"data":{"name":"halos"},
"mark":{"type":"line","color":"#8c564b","strokeOpacity":0.4,"strokeWidth":2.1},
"encoding":{
"x":{"field":"n","type":"quantitative","scale":{"domain":[-0.45,9.45],"nice":false,"zero":false},"axis":{"values":[0,2,4,6,8],"format":"d","title":"Number of deformations","labelPadding":5,"titlePadding":8}},
"y":{"field":"e","type":"quantitative","scale":{"domain":[0.5832,1.0199],"nice":false,"zero":false},"axis":{"values":[0.6,0.65,0.7,0.75,0.8,0.85,0.9,0.95,1.0],"format":".2f","title":"Energy overdensity","labelPadding":10,"titlePadding":13}},
"detail":{"field":"halo","type":"nominal"}
}}
